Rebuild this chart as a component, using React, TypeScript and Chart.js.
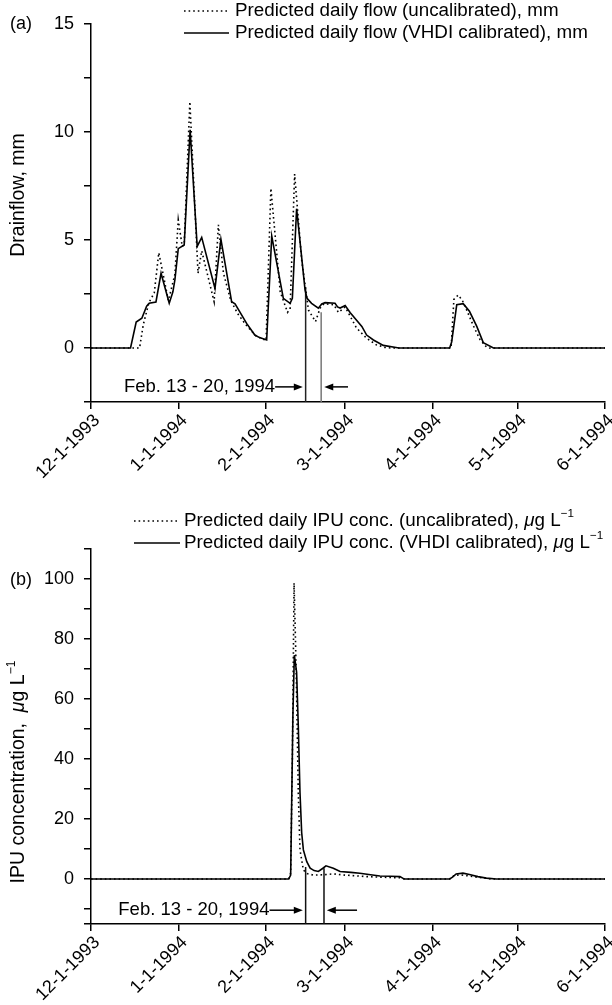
import React, { useEffect, useRef } from 'react';
import { Chart, registerables } from 'chart.js';

Chart.register(...registerables);

const FONT = "'Liberation Sans', Arial, Helvetica, sans-serif";

// ---- axes ----
const monthDays = [0, 31, 62, 90, 121, 151, 182];
const monthLabels = ['12-1-1993', '1-1-1994', '2-1-1994', '3-1-1994', '4-1-1994', '5-1-1994', '6-1-1994'];

const flowTicks = [-2.5, 0, 2.5, 5, 7.5, 10, 12.5, 15];
const flowTickLabels = ['', '0', '', '5', '', '10', '', '15'];
const concTicks = [-15, -10, 0, 10, 20, 30, 40, 50, 60, 70, 80, 90, 100, 110];
const concTickLabels = ['', '', '0', '', '20', '', '40', '', '60', '', '80', '', '100', ''];

// ---- (a) drainflow, mm (x = days since 12-1-1993) ----
const flowCalDays = [0, 14, 16, 18, 19.7, 20.6, 23, 24.8, 27.7, 29, 29.7, 30.9, 33, 35.1, 37.6, 39.2, 43.9, 46, 49.8, 51, 55.1, 58, 59.7, 62.2, 64, 68.1, 70.5, 71.3, 72.8, 75.8, 76.5, 78.1, 80.5, 81.7, 82.9, 86.4, 87.3, 88.2, 90, 91.8, 95.9, 97.6, 100, 103.5, 108, 109, 127, 127.7, 129.5, 131.8, 134, 136.6, 138.9, 142.5, 182];
const flowCal = [0, 0, 1.2, 1.38, 1.94, 2.07, 2.13, 3.46, 2.07, 2.6, 3.15, 4.6, 4.77, 10.1, 4.7, 5.12, 2.76, 5.03, 2.14, 2.05, 1.14, 0.6, 0.48, 0.37, 5.18, 2.3, 2.07, 2.3, 6.45, 2.68, 2.3, 2.07, 1.84, 2.04, 2.1, 2.07, 1.9, 1.85, 1.97, 1.63, 1.0, 0.6, 0.37, 0.12, 0.02, 0, 0, 0.28, 2.0, 2.05, 1.7, 1.0, 0.25, 0, 0];

const flowUncalDays = [0, 17.2, 18.5, 20.5, 22.4, 24, 27.4, 29.7, 30.9, 32.3, 33, 35, 37.9, 39.2, 43.6, 45.1, 46.9, 49.5, 51.9, 54.8, 58.5, 62, 63.7, 67, 69.6, 70.5, 72.1, 74.6, 77, 79.5, 81.1, 82.5, 86, 87.6, 90, 94, 97.6, 101, 104, 106, 127.5, 128.5, 130, 131.5, 133, 135.5, 137.7, 140, 141, 182];
const flowUncal = [0, 0, 1.07, 2.1, 2.55, 4.41, 2.2, 3.4, 5.93, 4.7, 4.8, 11.4, 3.46, 4.5, 2.14, 5.7, 3.46, 2.2, 1.6, 1.08, 0.55, 0.35, 7.39, 2.6, 1.65, 1.8, 8.05, 4.07, 1.76, 1.22, 1.84, 2.05, 2.0, 1.65, 1.9, 0.93, 0.45, 0.15, 0.03, 0, 0, 2.25, 2.45, 2.2, 1.76, 1.0, 0.4, 0.05, 0, 0];

// ---- (b) IPU concentration, ug/L ----
const concCalDays = [0, 70, 70.7, 71.5, 72, 72.8, 73.4, 74, 74.6, 75.2, 76.4, 77.6, 79, 80.5, 82, 83.2, 85.8, 88.2, 92, 95.2, 99, 102.3, 106, 109.4, 110.5, 111, 127, 128, 129.3, 131.7, 134, 137, 140, 143.5, 182];
const concCal = [0, 0, 1.3, 55, 74.6, 69, 51, 28.8, 15.4, 9.7, 5.8, 3.6, 2.8, 2.5, 3.5, 4.4, 3.6, 2.5, 2.2, 1.9, 1.4, 1.0, 0.9, 0.8, 0.2, 0, 0, 0.6, 1.7, 1.95, 1.5, 0.8, 0.3, 0, 0];

const concUncalDays = [0, 70, 70.7, 71.3, 71.9, 72.4, 72.8, 73.4, 74, 75.2, 76.5, 78.7, 82, 85.8, 90, 97.6, 103, 109.4, 111, 127, 128.5, 130.5, 134, 137.5, 141, 142, 182];
const concUncal = [0, 0, 2.0, 40, 98.7, 80, 62, 28.8, 9.7, 3.0, 1.8, 1.3, 1.4, 1.7, 1.3, 0.8, 0.6, 0.4, 0, 0, 1.1, 1.4, 1.0, 0.5, 0.1, 0, 0];

// ---- annotation (Feb. 13 - 20, 1994) ----
const febLabel = 'Feb. 13 - 20, 1994';
const flowMarkDays = [76, 81.5];
const flowMarkTops = [2.8, 1.65];
const flowArrowY = -1.8;
const flowArrowRight = [65.2, 75.0];
const flowArrowLeft = [91.0, 82.6];

const concMarkDays = [76, 82.5];
const concMarkTops = [4.0, 3.6];
const concArrowY = -10.4;
const concArrowRight = [63.2, 75.0];
const concArrowLeft = [94.2, 83.5];

type Seg = { t: string; it?: boolean; sup?: boolean };

const flowLegend: Seg[][] = [
  [{ t: 'Predicted daily flow (uncalibrated), mm' }],
  [{ t: 'Predicted daily flow (VHDI calibrated), mm' }],
];
const concLegend: Seg[][] = [
  [{ t: 'Predicted daily IPU conc. (uncalibrated), ' }, { t: '\u03bc', it: true }, { t: 'g L' }, { t: '\u22121', sup: true }],
  [{ t: 'Predicted daily IPU conc. (VHDI calibrated), ' }, { t: '\u03bc', it: true }, { t: 'g L' }, { t: '\u22121', sup: true }],
];
const flowTitle: Seg[] = [{ t: 'Drainflow, mm' }];
const concTitle: Seg[] = [{ t: 'IPU concentration,  ' }, { t: '\u03bc', it: true }, { t: 'g L' }, { t: '\u22121', sup: true }];

function pts(days: number[], vals: number[]) {
  return days.map((d, i) => ({ x: d, y: vals[i] }));
}

function setFont(ctx: CanvasRenderingContext2D, s: Seg, size: number) {
  const fs = s.sup ? size * 0.62 : size;
  ctx.font = `${s.it ? 'italic ' : ''}${fs}px ${FONT}`;
}
function richWidth(ctx: CanvasRenderingContext2D, segs: Seg[], size: number) {
  let w = 0;
  for (const s of segs) {
    setFont(ctx, s, size);
    w += ctx.measureText(s.t).width;
  }
  return w;
}
function drawRich(ctx: CanvasRenderingContext2D, segs: Seg[], x: number, y: number, size: number) {
  let cx = x;
  ctx.textBaseline = 'middle';
  ctx.textAlign = 'left';
  for (const s of segs) {
    setFont(ctx, s, size);
    ctx.fillText(s.t, cx, s.sup ? y - size * 0.4 : y);
    cx += ctx.measureText(s.t).width;
  }
}

function arrow(ctx: CanvasRenderingContext2D, x1: number, x2: number, y: number) {
  const dir = x2 > x1 ? 1 : -1;
  ctx.beginPath();
  ctx.moveTo(x1, y);
  ctx.lineTo(x2 - dir * 8, y);
  ctx.lineWidth = 1.5;
  ctx.strokeStyle = '#000';
  ctx.stroke();
  ctx.beginPath();
  ctx.moveTo(x2, y);
  ctx.lineTo(x2 - dir * 9, y - 3.5);
  ctx.lineTo(x2 - dir * 9, y + 3.5);
  ctx.closePath();
  ctx.fillStyle = '#000';
  ctx.fill();
}

type Deco = {
  tag: string;
  tagY: number;
  legend: Seg[][];
  legendY: number[];
  legendX: [number, number, number];
  title: Seg[];
  titleY: number;
  arrowY: number;
  arrowRight: number[];
  arrowLeft: number[];
};

function decoPlugin(d: Deco) {
  return {
    id: 'deco',
    afterDraw(chart: any) {
      const ctx: CanvasRenderingContext2D = chart.ctx;
      const xs = chart.scales.x;
      const ys = chart.scales.y;
      ctx.save();
      ctx.fillStyle = '#000';
      // panel tag
      ctx.font = `18px ${FONT}`;
      ctx.textAlign = 'left';
      ctx.textBaseline = 'middle';
      ctx.fillText(d.tag, 10, d.tagY);
      // legend
      d.legend.forEach((segs, i) => {
        const y = d.legendY[i];
        ctx.beginPath();
        ctx.moveTo(d.legendX[0], y);
        ctx.lineTo(d.legendX[1], y);
        ctx.lineWidth = 1.6;
        ctx.strokeStyle = '#000';
        ctx.setLineDash(i === 0 ? [1.6, 3] : []);
        ctx.stroke();
        ctx.setLineDash([]);
        ctx.fillStyle = '#000';
        drawRich(ctx, segs, d.legendX[2], y, 18.8);
      });
      // y title
      const w = richWidth(ctx, d.title, 19.5);
      ctx.save();
      ctx.translate(19, d.titleY);
      ctx.rotate(-Math.PI / 2);
      drawRich(ctx, d.title, -w / 2, 0, 19.5);
      ctx.restore();
      // annotation
      const ay = ys.getPixelForValue(d.arrowY);
      const r1 = xs.getPixelForValue(d.arrowRight[0]);
      const r2 = xs.getPixelForValue(d.arrowRight[1]);
      const l1 = xs.getPixelForValue(d.arrowLeft[0]);
      const l2 = xs.getPixelForValue(d.arrowLeft[1]);
      arrow(ctx, r1, r2, ay);
      arrow(ctx, l1, l2, ay);
      ctx.font = `18.5px ${FONT}`;
      ctx.textAlign = 'right';
      ctx.textBaseline = 'middle';
      ctx.fillStyle = '#000';
      ctx.fillText(febLabel, r1, ay);
      ctx.restore();
    },
  };
}

function buildConfig(opts: {
  uncal: { x: number; y: number }[];
  cal: { x: number; y: number }[];
  markDays: number[];
  markTops: number[];
  markColors: string[];
  yMin: number;
  yMax: number;
  yTicks: number[];
  yTickLabels: string[];
  padTop: number;
  xHeight: number;
  deco: Deco;
}) {
  const markSets = opts.markDays.map((d, i) => ({
    data: [
      { x: d, y: opts.yMin },
      { x: d, y: opts.markTops[i] },
    ],
    borderColor: opts.markColors[i],
    borderWidth: 1.5,
    pointRadius: 0,
    tension: 0,
    fill: false,
  }));
  return {
    type: 'line' as const,
    data: {
      datasets: [
        {
          data: opts.uncal,
          borderColor: '#000',
          borderWidth: 1.6,
          borderDash: [1.6, 3],
          pointRadius: 0,
          tension: 0,
          fill: false,
        },
        {
          data: opts.cal,
          borderColor: '#000',
          borderWidth: 1.6,
          pointRadius: 0,
          tension: 0,
          fill: false,
        },
        ...markSets,
      ],
    },
    options: {
      responsive: false,
      animation: false,
      events: [],
      layout: { padding: { top: opts.padTop, right: 7, left: 0, bottom: 0 } },
      plugins: { legend: { display: false }, tooltip: { enabled: false }, title: { display: false } },
      scales: {
        x: {
          type: 'linear',
          min: 0,
          max: 182,
          afterBuildTicks: (s: any) => {
            s.ticks = monthDays.map((v) => ({ value: v }));
          },
          afterFit: (s: any) => {
            s.height = opts.xHeight;
            s.paddingRight = 0;
            s.paddingLeft = 0;
          },
          ticks: {
            autoSkip: false,
            minRotation: 45,
            maxRotation: 45,
            color: '#000',
            padding: 1,
            labelOffset: 6,
            font: { family: FONT, size: 18 },
            callback: (v: number) => {
              const i = monthDays.indexOf(v);
              return i >= 0 ? monthLabels[i] : '';
            },
          },
          grid: { drawOnChartArea: false, drawTicks: true, tickLength: 7, tickColor: '#000', tickWidth: 1.5, color: '#000', lineWidth: 1.5 },
          border: { display: true, color: '#000', width: 1.5 },
        },
        y: {
          type: 'linear',
          min: opts.yMin,
          max: opts.yMax,
          afterBuildTicks: (s: any) => {
            s.ticks = opts.yTicks.map((v) => ({ value: v }));
          },
          afterFit: (s: any) => {
            s.width = 91;
            s.paddingTop = 0;
            s.paddingBottom = 0;
          },
          ticks: {
            autoSkip: false,
            color: '#000',
            padding: 10,
            font: { family: FONT, size: 18 },
            callback: (v: number) => {
              const i = opts.yTicks.indexOf(v);
              return i >= 0 ? opts.yTickLabels[i] : '';
            },
          },
          grid: { drawOnChartArea: false, drawTicks: true, tickLength: 7, tickColor: '#000', tickWidth: 1.5, color: '#000', lineWidth: 1.5 },
          border: { display: true, color: '#000', width: 1.5 },
        },
      },
    },
    plugins: [decoPlugin(opts.deco)],
  };
}

function Panel(props: { top: number; height: number; config: any }) {
  const ref = useRef<HTMLCanvasElement>(null);
  useEffect(() => {
    if (!ref.current) return;
    const chart = new Chart(ref.current, props.config);
    return () => chart.destroy();
  }, []);
  return (
    <canvas
      ref={ref}
      width={612}
      height={props.height}
      style={{ position: 'absolute', left: 0, top: props.top, width: 612, height: props.height, display: 'block' }}
    />
  );
}

export default function App() {
  const topConfig = buildConfig({
    uncal: pts(flowUncalDays, flowUncal),
    cal: pts(flowCalDays, flowCal),
    markDays: flowMarkDays,
    markTops: flowMarkTops,
    markColors: ['#222', '#777'],
    yMin: -2.5,
    yMax: 15,
    yTicks: flowTicks,
    yTickLabels: flowTickLabels,
    padTop: 24,
    xHeight: 88,
    deco: {
      tag: '(a)',
      tagY: 24,
      legend: flowLegend,
      legendY: [11, 33],
      legendX: [184, 229, 235],
      title: flowTitle,
      titleY: 195,
      arrowY: flowArrowY,
      arrowRight: flowArrowRight,
      arrowLeft: flowArrowLeft,
    },
  });
  const bottomConfig = buildConfig({
    uncal: pts(concUncalDays, concUncal),
    cal: pts(concCalDays, concCal),
    markDays: concMarkDays,
    markTops: concMarkTops,
    markColors: ['#111', '#111'],
    yMin: -15,
    yMax: 110,
    yTicks: concTicks,
    yTickLabels: concTickLabels,
    padTop: 59,
    xHeight: 81,
    deco: {
      tag: '(b)',
      tagY: 90,
      legend: concLegend,
      legendY: [31, 53],
      legendX: [134, 180, 184],
      title: concTitle,
      titleY: 282,
      arrowY: concArrowY,
      arrowRight: concArrowRight,
      arrowLeft: concArrowLeft,
    },
  });
  return (
    <div style={{ position: 'absolute', left: 0, top: 0, width: 612, height: 1005, background: '#fff' }}>
      <Panel top={0} height={490} config={topConfig} />
      <Panel top={490} height={515} config={bottomConfig} />
    </div>
  );
}
